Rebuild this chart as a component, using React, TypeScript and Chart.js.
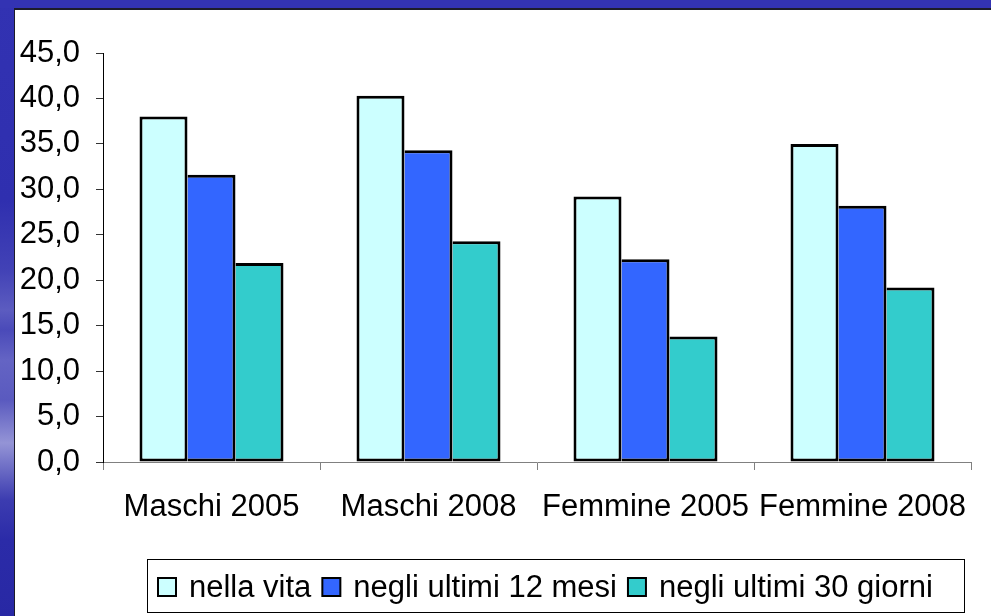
import React, { useEffect, useRef } from "react";
import { Chart, registerables } from "chart.js";

Chart.register(...registerables);

const categories = ["Maschi 2005", "Maschi 2008", "Femmine 2005", "Femmine 2008"];
const seriesNames = ["nella vita", "negli ultimi 12 mesi", "negli ultimi 30 giorni"];
const nellaVita = [38.0, 40.3, 29.2, 35.0];
const ultimi12Mesi = [31.6, 34.3, 22.3, 28.2];
const ultimi30Giorni = [21.9, 24.3, 13.8, 19.2];
const yMin = 0;
const yMax = 45;
const yStep = 5;

const seriesColors = ["#CCFFFF", "#3366FF", "#33CCCC"];
const FONT = "'Liberation Sans', Arial, sans-serif";
const FONT_SIZE = 31;

const boxedLegend = {
  id: "boxedLegend",
  afterDraw(chart: any) {
    const ctx = chart.ctx as CanvasRenderingContext2D;
    const rx = 132, ry = 549, rw = 817, rh = 53;
    ctx.save();
    ctx.strokeStyle = "#000";
    ctx.lineWidth = 1;
    ctx.strokeRect(rx + 0.5, ry + 0.5, rw, rh);
    ctx.font = `${FONT_SIZE}px ${FONT}`;
    ctx.textBaseline = "alphabetic";
    ctx.textAlign = "left";
    let x = rx + 11;
    const box = 18;
    const baseline = ry + 38;
    chart.data.datasets.forEach((ds: any) => {
      ctx.fillStyle = ds.backgroundColor;
      ctx.fillRect(x, baseline - 19, box, box);
      ctx.lineWidth = 2;
      ctx.strokeStyle = "#000";
      ctx.strokeRect(x, baseline - 19, box, box);
      x += box + 13;
      ctx.fillStyle = "#000";
      ctx.fillText(ds.label, x, baseline);
      x += ctx.measureText(ds.label).width + 11;
    });
    ctx.restore();
  },
};

export default function App() {
  const ref = useRef<HTMLCanvasElement | null>(null);

  useEffect(() => {
    if (!ref.current) return;
    const seriesData = [nellaVita, ultimi12Mesi, ultimi30Giorni];
    const chart = new Chart(ref.current, {
      type: "bar",
      data: {
        labels: categories,
        datasets: seriesNames.map((name, i) => ({
          label: name,
          data: seriesData[i],
          backgroundColor: seriesColors[i],
          borderColor: "#000",
          borderWidth: 3,
          borderSkipped: i === 0 ? false : "left",
          categoryPercentage: 0.6636,
          barPercentage: 1,
        })),
      },
      options: {
        responsive: false,
        animation: false,
        devicePixelRatio: 1,
        layout: { padding: { top: 43, right: 20, bottom: 74, left: 0 } },
        plugins: {
          legend: { display: false },
          tooltip: { enabled: false },
        },
        scales: {
          x: {
            afterFit: (s: any) => {
              s.height = 80;
            },
            grid: {
              display: true,
              drawOnChartArea: false,
              tickLength: 8,
              color: "#808080",
              offset: true,
            },
            border: { display: true, color: "#808080", width: 1 },
            ticks: {
              color: "#000",
              padding: 19,
              maxRotation: 0,
              autoSkip: false,
              font: { family: FONT, size: FONT_SIZE },
            },
          },
          y: {
            min: yMin,
            max: yMax,
            afterFit: (s: any) => {
              s.width = 88;
            },
            grid: {
              display: true,
              drawOnChartArea: false,
              tickLength: 7,
              color: "#333",
            },
            border: { display: true, color: "#000", width: 1 },
            ticks: {
              stepSize: yStep,
              color: "#000",
              padding: 16,
              font: { family: FONT, size: FONT_SIZE },
              callback: (v: any) => Number(v).toFixed(1).replace(".", ","),
            },
          },
        },
      },
      plugins: [boxedLegend],
    } as any);
    return () => chart.destroy();
  }, []);

  return (
    <div
      style={{
        position: "fixed",
        left: 0,
        top: 0,
        width: 991,
        height: 616,
        overflow: "hidden",
        background:
          "linear-gradient(to bottom, #3232B2 0px, #2F2FAF 200px, #4242B6 270px, #5C5CC0 310px, #4A4AB9 330px, #6464C4 360px, #5A5ABF 400px, #9494D6 443px, #6A6AC4 470px, #3C3CB0 500px, #2B2BA8 540px, #2828A4 616px)",
      }}
    >
      <div
        style={{
          position: "absolute",
          left: 0,
          top: 0,
          width: 991,
          height: 8,
          background: "#3333B3",
        }}
      />
      <div
        style={{
          position: "absolute",
          left: 14,
          top: 8,
          width: 977,
          height: 608,
          background: "#fff",
          borderTop: "2px solid #1c1c2a",
          borderLeft: "1px solid #1c1c2a",
          boxSizing: "border-box",
        }}
      >
        <canvas ref={ref} width={976} height={606} style={{ display: "block" }} />
      </div>
    </div>
  );
}
